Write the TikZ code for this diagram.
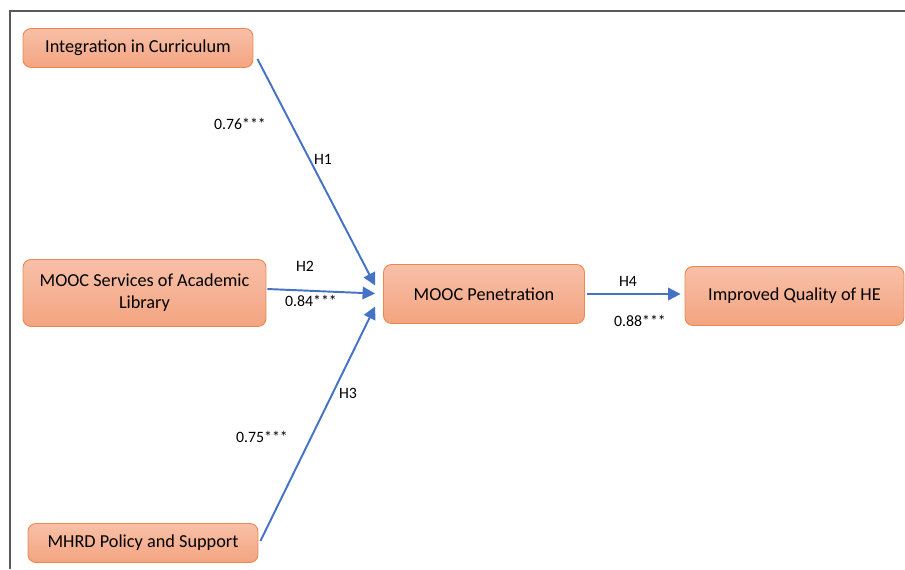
\documentclass[tikz,border=0pt]{standalone}
\usepackage{fontspec}
\setmainfont{Carlito}
\usetikzlibrary{arrows.meta}
\definecolor{boxtop}{RGB}{248,192,168}
\definecolor{boxbot}{RGB}{243,164,128}
\definecolor{boxline}{RGB}{237,135,80}
\definecolor{linkblue}{RGB}{68,114,196}
\tikzset{
  factor/.style={rectangle, rounded corners=0.16cm, draw=boxline, line width=0.5pt,
    top color=boxtop, bottom color=boxbot, align=center,
    font=\fontsize{10.4}{12.6}\selectfont, inner sep=0pt},
  link/.style={draw=linkblue, line width=1.1pt,
    -{Triangle[length=0.25cm, width=0.25cm]}},
  coef/.style={font=\fontsize{9}{11}\selectfont}
}
\begin{document}
\begin{tikzpicture}[x=0.02cm, y=-0.02cm]
\useasboundingbox (0,0) rectangle (905,569);
\draw[gray!70!black, line width=0.8pt] (10,569) -- (10,11) -- (905,11);

\node[factor, minimum width=4.6cm, minimum height=0.78cm] (integ) at (138,48) {Integration in Curriculum};
\node[factor, minimum width=4.86cm, minimum height=1.34cm] (library) at (144.5,293) {MOOC Services of Academic\\Library};
\node[factor, minimum width=4.6cm, minimum height=0.78cm] (mhrd) at (143,543) {MHRD Policy and Support};
\node[factor, minimum width=4.02cm, minimum height=1.18cm] (pen) at (484,294) {MOOC Penetration};
\node[factor, minimum width=4.38cm, minimum height=1.18cm] (qual) at (794.5,296) {Improved Quality of HE};

\draw[link] ([shift={(4,-9)}]integ.south east) -- ([shift={(-8,-8.5)}]pen.west);
\draw[link] ([shift={(1,-4)}]library.east) -- ([shift={(-8,-0.5)}]pen.west);
\draw[link] ([shift={(2,-2)}]mhrd.east) -- ([shift={(-8,12.5)}]pen.west);
\draw[link] ([xshift=0.04cm]pen.east) -- ([xshift=-0.08cm]pen.east -| qual.west);

\node[coef] (c1) at (240,124) {0.76***};
\node[coef] (h1) at (323,159) {H1};
\node[coef] (h2) at (305,266) {H2};
\node[coef] (c2) at (311,301) {0.84***};
\node[coef] (h3) at (348,393) {H3};
\node[coef] (c3) at (262,437) {0.75***};
\node[coef] (h4) at (628,281) {H4};
\node[coef] (c4) at (640,321) {0.88***};
\end{tikzpicture}
\end{document}
